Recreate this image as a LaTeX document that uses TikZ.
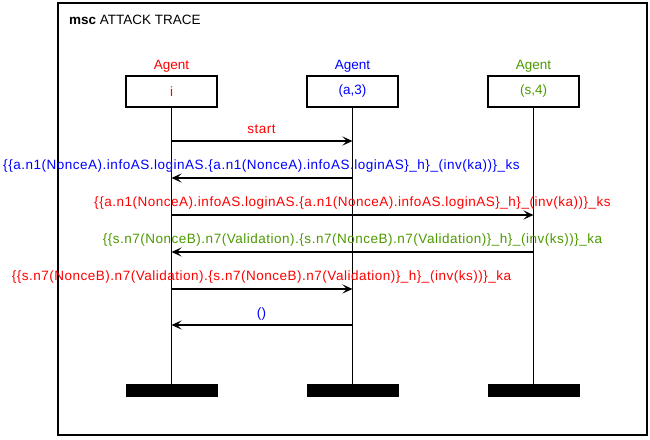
\documentclass[tikz,border=0pt]{standalone}
\usepackage{fontspec}
\setmainfont{Liberation Sans}
\newfontfamily\msgfont[LetterSpace=3.8]{Liberation Sans}
\usetikzlibrary{arrows.meta}
\definecolor{agred}{RGB}{255,0,0}
\definecolor{agblue}{RGB}{0,0,255}
\definecolor{aggreen}{RGB}{76,153,0}
\begin{document}
\begin{tikzpicture}[x=1pt,y=-1pt, font=\fontsize{13.5}{16}\selectfont,
  lifebox/.style={draw, line width=1.8pt, minimum width=91pt, minimum height=31pt, inner sep=0pt},
  endbar/.style={fill=black, minimum width=92pt, minimum height=13pt, inner sep=0pt},
  lifeline/.style={line width=1.8pt},
  msg/.style={line width=1.7pt, -{Stealth[length=10pt,width=9pt,inset=4.5pt]}},
  lbl/.style={anchor=base, inner sep=0pt},
  mlbl/.style={anchor=base, inner sep=0pt, font=\msgfont\fontsize{13.5}{16}\selectfont}]
\useasboundingbox (0,0) rectangle (650,439);
\draw[line width=2pt] (57.5,2.5) rectangle (647,434.5);
\node[lbl, anchor=base west] (title) at (69,24) {\textbf{msc} ATTACK TRACE};
% agents
\node[lbl, text=agred] (ni) at (171.5,69.5) {Agent};
\node[lbl, text=agblue] (na) at (352.5,69.5) {Agent};
\node[lbl, text=aggreen] (ns) at (533.5,69.5) {Agent};
\node[lifebox, text=agred] (bi) at (171.5,91.5) {i};
\node[lifebox, text=agblue] (ba) at (352.5,91.5) {(a,3)};
\node[lifebox, text=aggreen] (bs) at (533.5,91.5) {(s,4)};
\node[endbar] (ei) at (171.5,390.5) {};
\node[endbar] (ea) at (352.5,390.5) {};
\node[endbar] (es) at (533.5,390.5) {};
\draw[lifeline] (bi.south) -- (ei.north);
\draw[lifeline] (ba.south) -- (ea.north);
\draw[lifeline] (bs.south) -- (es.north);
% message points
\foreach \n/\y in {1/141,2/178,3/215,4/252,5/289,6/325}{
  \coordinate (i\n) at (bi.south |- 0,\y);
  \coordinate (a\n) at (ba.south |- 0,\y);
  \coordinate (s\n) at (bs.south |- 0,\y);
}
\draw[msg] (i1) -- (a1);
\draw[msg] (a2) -- (i2);
\draw[msg] (i3) -- (s3);
\draw[msg] (s4) -- (i4);
\draw[msg] (i5) -- (a5);
\draw[msg] (a6) -- (i6);
\node[mlbl, text=agred] (l1) at (261.5,133.5) {start};
\node[mlbl, text=agblue] (l2) at (261.5,169.5) {\{\{a.n1(NonceA).infoAS.loginAS.\{a.n1(NonceA).infoAS.loginAS\}\_h\}\_(inv(ka))\}\_ks};
\node[mlbl, text=agred] (l3) at (352.5,206.5) {\{\{a.n1(NonceA).infoAS.loginAS.\{a.n1(NonceA).infoAS.loginAS\}\_h\}\_(inv(ka))\}\_ks};
\node[mlbl, text=aggreen] (l4) at (352.5,243.5) {\{\{s.n7(NonceB).n7(Validation).\{s.n7(NonceB).n7(Validation)\}\_h\}\_(inv(ks))\}\_ka};
\node[mlbl, text=agred] (l5) at (261.5,280.5) {\{\{s.n7(NonceB).n7(Validation).\{s.n7(NonceB).n7(Validation)\}\_h\}\_(inv(ks))\}\_ka};
\node[mlbl, text=agblue] (l6) at (261.5,317) {()};
\end{tikzpicture}
\end{document}
